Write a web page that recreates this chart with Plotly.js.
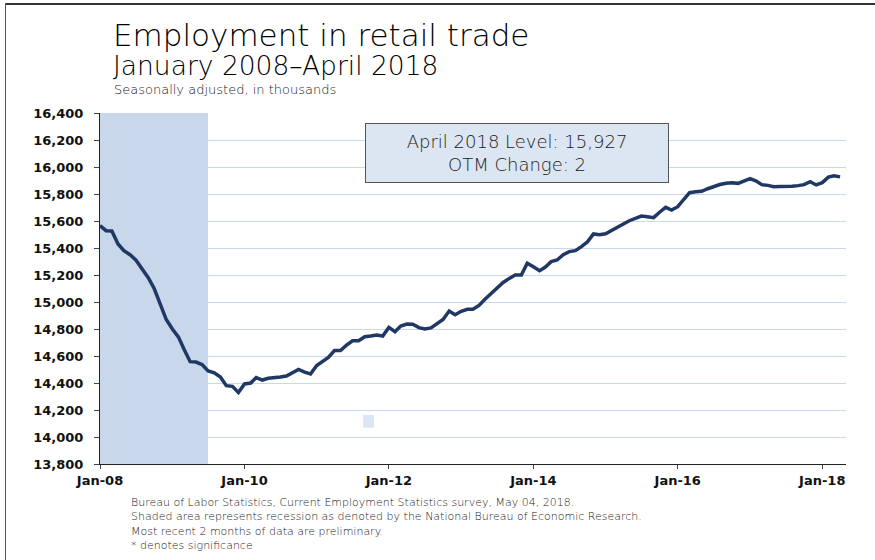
<!DOCTYPE html>
<html>
<head>
<meta charset="utf-8">
<script src="https://cdn.plot.ly/plotly-3.0.1.min.js"></script>
<style>
  html, body { margin: 0; padding: 0; background: #fff; }
  #wrap { position: relative; width: 875px; height: 560px; overflow: hidden; }
  #chart { width: 875px; height: 560px; }
  #frameTop { position: absolute; left: 5px; top: 3px; width: 870px; height: 2px; background: #333; }
  #frameLeft { position: absolute; left: 5px; top: 3px; width: 1px; height: 557px; background: #555; }
</style>
</head>
<body>
<div id="wrap">
  <div id="chart"></div>
  <div id="frameTop"></div>
  <div id="frameLeft"></div>
</div>
<script>
// Retail trade employment, seasonally adjusted, thousands (Jan 2008 - Apr 2018)
const startYear = 2008;
const employment = [
  // 2008
  15565, 15528, 15526, 15430, 15380, 15350, 15310, 15250, 15180, 15100, 14980, 14870,
  // 2009
  14800, 14740, 14650, 14558, 14555, 14535, 14490, 14475, 14445, 14380, 14375, 14330,
  // 2010
  14393, 14400, 14440, 14422, 14435, 14437, 14445, 14452, 14475, 14501, 14480, 14467,
  // 2011
  14530, 14560, 14590, 14640, 14640, 14680, 14713, 14713, 14743, 14748, 14756, 14748,
  // 2012
  14812, 14780, 14822, 14837, 14835, 14810, 14800, 14808, 14842, 14870, 14933, 14906,
  // 2013
  14931, 14946, 14946, 14975, 15020, 15064, 15109, 15145, 15175, 15200, 15200, 15287,
  // 2014
  15261, 15232, 15257, 15299, 15311, 15350, 15373, 15380, 15410, 15445, 15504, 15499,
  // 2015
  15505, 15528, 15555, 15578, 15602, 15620, 15637, 15632, 15625, 15665, 15701, 15681,
  // 2016
  15706, 15761, 15810, 15817, 15820, 15839, 15855, 15870, 15880, 15884, 15879, 15895,
  // 2017
  15914, 15896, 15869, 15864, 15854, 15855, 15854, 15858, 15862, 15869, 15891, 15867,
  // 2018
  15884, 15925, 15935, 15927
];
const months = employment.map((_, i) => {
  const y = startYear + Math.floor(i / 12);
  const m = (i % 12) + 1;
  return y + '-' + String(m).padStart(2, '0') + '-01';
});
const tickDates = ['2008-01-01', '2010-01-01', '2012-01-01', '2014-01-01', '2016-01-01', '2018-01-01'];
const tickLabels = ['Jan-08', 'Jan-10', 'Jan-12', 'Jan-14', 'Jan-16', 'Jan-18'];
const recessionStart = '2008-01-01';
const recessionEnd = '2009-06-30';
const latestLevel = '15,927';
const otmChange = '2';

const titleFont = 'DejaVu Sans, Verdana, sans-serif';
const bodyFont = 'DejaVu Sans, Verdana, sans-serif';

const trace = {
  x: months,
  y: employment,
  type: 'scatter',
  mode: 'lines',
  line: { color: '#1f3864', width: 3.5 },
  hoverinfo: 'x+y'
};

const layout = {
  width: 875,
  height: 560,
  margin: { l: 100, r: 29, t: 113, b: 96 },
  paper_bgcolor: '#ffffff',
  plot_bgcolor: '#ffffff',
  showlegend: false,
  xaxis: {
    type: 'date',
    range: ['2008-01-01', '2018-05-01'],
    tickvals: tickDates,
    ticktext: tickLabels,
    ticks: 'outside',
    ticklen: 4,
    tickcolor: '#444',
    showgrid: false,
    showline: true,
    linecolor: '#222',
    linewidth: 1,
    zeroline: false,
    tickfont: { family: bodyFont, size: 13, color: '#111', weight: 'bold' }
  },
  yaxis: {
    range: [13800, 16400],
    dtick: 200,
    tick0: 13800,
    tickformat: ',d',
    ticks: 'outside',
    ticklen: 5,
    tickcolor: '#444',
    ticklabelstandoff: 8,
    showgrid: true,
    gridcolor: '#c6d9f0',
    gridwidth: 1,
    showline: true,
    linecolor: '#222',
    linewidth: 1,
    zeroline: false,
    tickfont: { family: bodyFont, size: 13, color: '#111', weight: 'bold' }
  },
  shapes: [
    {
      type: 'rect', xref: 'x', yref: 'paper', layer: 'below',
      x0: recessionStart, x1: recessionEnd, y0: 0, y1: 1,
      fillcolor: '#c8d7ea', line: { width: 0 }
    },
    {
      type: 'rect', xref: 'x', yref: 'y', layer: 'below',
      x0: '2011-08-24', x1: '2011-10-17', y0: 14069, y1: 14163,
      fillcolor: '#dae6f3', line: { width: 0 }
    }
  ],
  annotations: [
    {
      text: 'Employment in retail trade', xref: 'paper', yref: 'paper',
      x: 11 / 746, y: (464 - 55) / 351, xanchor: 'left', yanchor: 'bottom',
      showarrow: false, font: { family: titleFont, size: 31, color: '#000', weight: 200 }
    },
    {
      text: 'January 2008\u2013April 2018', xref: 'paper', yref: 'paper',
      x: 11 / 746, y: (464 - 83) / 351, xanchor: 'left', yanchor: 'bottom',
      showarrow: false, font: { family: titleFont, size: 26.5, color: '#000', weight: 200 }
    },
    {
      text: 'Seasonally adjusted, in thousands', xref: 'paper', yref: 'paper',
      x: 12 / 746, y: (464 - 99) / 351, xanchor: 'left', yanchor: 'bottom',
      showarrow: false, font: { family: titleFont, size: 13, color: '#222', weight: 200 }
    },
    {
      text: 'April 2018 Level: ' + latestLevel + '<br>OTM Change: ' + otmChange,
      xref: 'paper', yref: 'paper',
      x: (517 - 100) / 746, y: (464 - 153) / 351, xanchor: 'center', yanchor: 'middle',
      showarrow: false, align: 'center',
      width: 298, height: 54,
      bgcolor: '#dce6f2', bordercolor: '#555', borderwidth: 1, borderpad: 2,
      font: { family: bodyFont, size: 18, color: '#1a1a1a', weight: 200 }
    },
    {
      text: 'Bureau of Labor Statistics, Current Employment Statistics survey, May 04, 2018.<br>' +
            'Shaded area represents recession as denoted by the National Bureau of Economic Research.<br>' +
            'Most recent 2 months of data are preliminary.<br>' +
            '* denotes significance',
      xref: 'paper', yref: 'paper',
      x: 29 / 746, y: -(494 - 464) / 351, xanchor: 'left', yanchor: 'top',
      showarrow: false, align: 'left',
      font: { family: bodyFont, size: 11, color: '#222', weight: 200 }
    }
  ]
};

Plotly.newPlot('chart', [trace], layout, { displayModeBar: false, staticPlot: true });
</script>
</body>
</html>
